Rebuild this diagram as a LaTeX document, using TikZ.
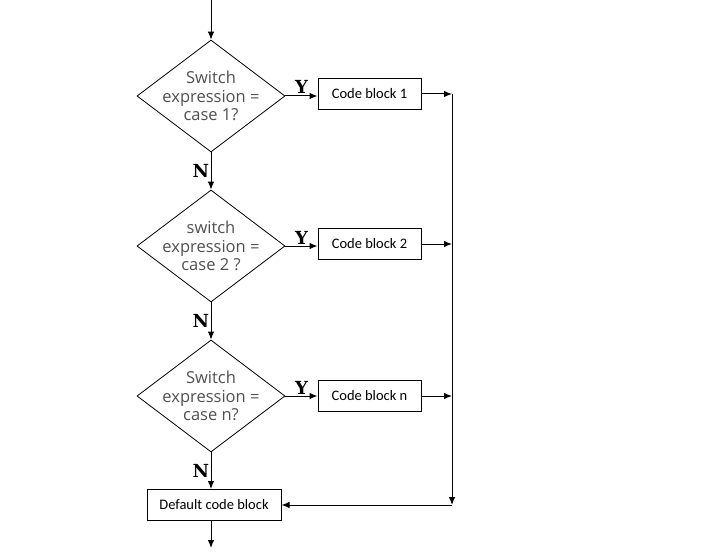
\documentclass[tikz,border=0pt]{standalone}
\usepackage{fontspec}
\newfontfamily\diafont{Open Sans}
\newfontfamily\boxfont{Carlito}
\newfontfamily\ynfont{DejaVu Serif}
\usepackage{xcolor}
\usetikzlibrary{shapes.geometric}
\usetikzlibrary{arrows.meta}
\definecolor{qgray}{RGB}{80,80,80}
\tikzset{
  font={\fontsize{14.5pt}{16pt}\selectfont}}

\begin{document}
\begin{tikzpicture}[x=1pt, y=-1pt]

    \tikzset{edge/.style = {-{Latex[length=8pt,width=6.5pt]}, line width=1pt}}
    \tikzset{test/.style = {diamond, draw=black, line width=0.8pt, minimum width=148pt, minimum height=112pt, inner sep=0pt}}
    \tikzset{question/.style = {align=center, text=qgray, font={\diafont\fontsize{16.5pt}{18.5pt}\selectfont}}}
    \tikzset{block/.style = {rectangle, draw=black, line width=1pt, minimum width=103pt, minimum height=31pt, font={\boxfont\fontsize{14.5pt}{16pt}\selectfont}}}
    \tikzset{answer/.style = {font={\ynfont\bfseries\fontsize{18pt}{18pt}\selectfont}, inner sep=1.5pt}}

    \useasboundingbox (0,0) rectangle (717,556);

    % vertices
    \node[test, label={[question]center:Switch\\expression =\\case 1?}] (d1) at (211,96) {};
    \node[test, label={[question]center:switch\\expression =\\case 2 ?}] (d2) at (211,246) {};
    \node[test, label={[question]center:Switch\\expression =\\case n?}] (d3) at (211,396) {};
    \node[block] (b1) at (369.5,94) {Code block 1};
    \node[block] (b2) at (369.5,244) {Code block 2};
    \node[block] (b3) at (369.5,396) {Code block n};
    \node[block, minimum width=134pt] (dflt) at (214,505) {Default code block};
    \coordinate (start) at (211,0);
    \coordinate (stop) at (211,548);
    \coordinate (rail) at (452,0);

    %edges
    \draw[edge] (start) -- (d1);
    \draw[edge] (d1.east) -- node [answer, above] {Y} (d1.east -| b1.west);
    \draw[edge] (d1) -- node [answer, left] {N} (d2);
    \draw[edge] (d2.east) -- node [answer, above] {Y} (d2.east -| b2.west);
    \draw[edge] (d2) -- node [answer, left] {N} (d3);
    \draw[edge] (d3.east) -- node [answer, above] {Y} (d3.east -| b3.west);
    \draw[edge] (d3) -- node [answer, left] {N} (d3 |- dflt.north);
    \draw[edge] (b1) -- (b1 -| rail);
    \draw[edge] (b2) -- (b2 -| rail);
    \draw[edge] (b3) -- (b3 -| rail);
    \draw[edge] (b1 -| rail) -- (rail |- dflt);
    \draw[edge] (rail |- dflt) -- (dflt);
    \draw[edge] (dflt.south -| d3) -- (stop);

\end{tikzpicture}
\end{document}
